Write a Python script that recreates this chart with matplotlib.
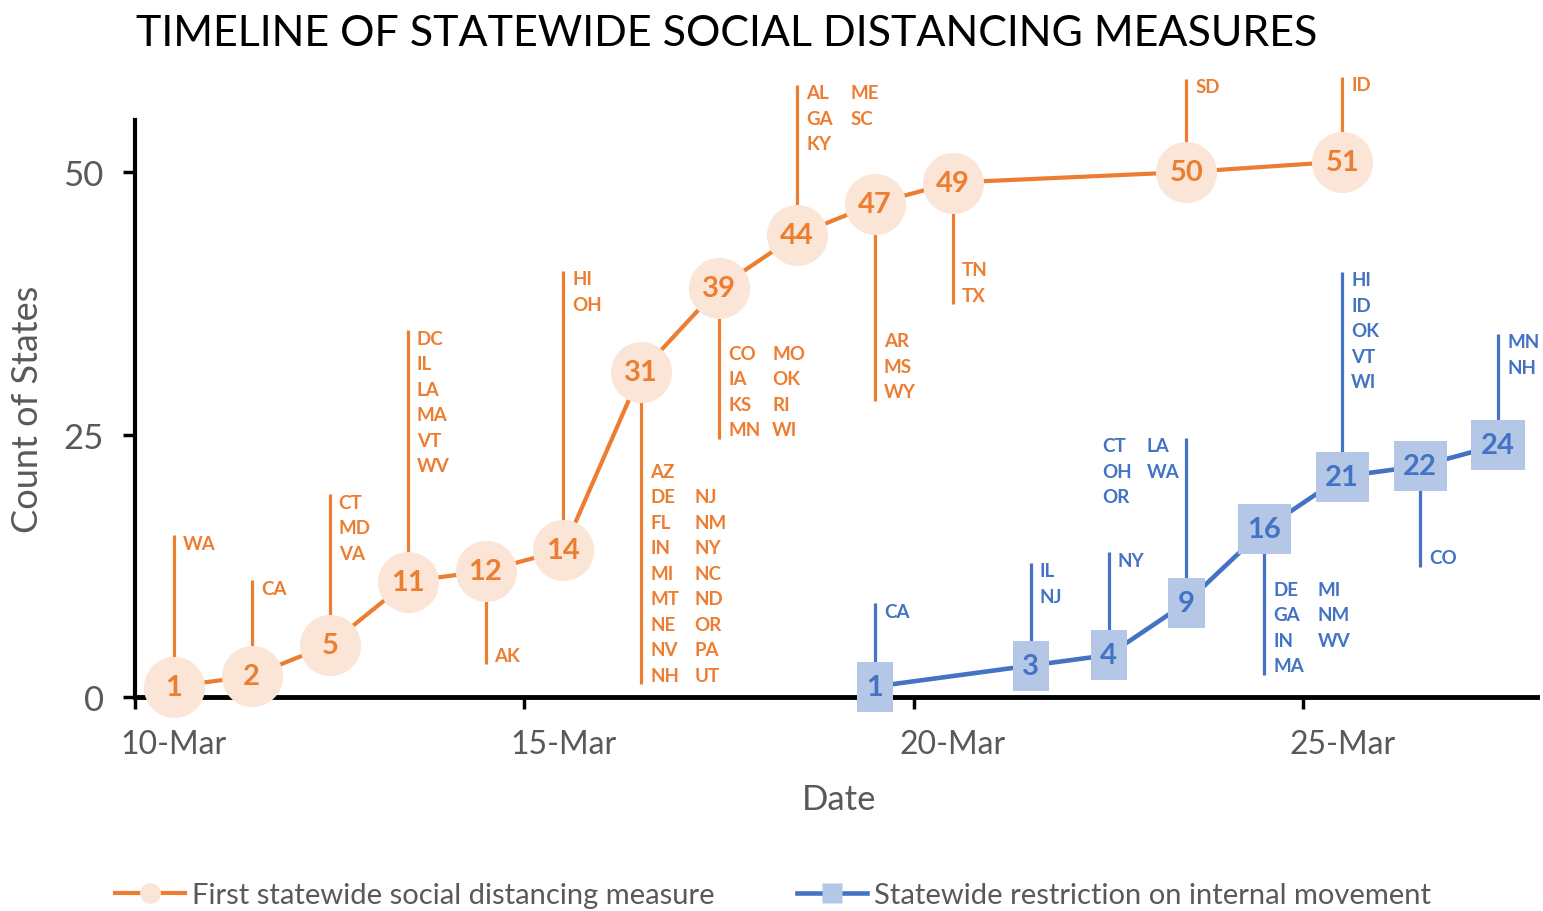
import matplotlib
matplotlib.use("Agg")
import matplotlib.pyplot as plt
from matplotlib.lines import Line2D

plt.rcParams['font.family'] = ['Lato', 'DejaVu Sans']

# données (jour de mars)
dias_naranja = [10, 11, 12, 13, 14, 15, 16, 17, 18, 19, 20, 23, 25]
conteo_naranja = [1, 2, 5, 11, 12, 14, 31, 39, 44, 47, 49, 50, 51]
estados_naranja = [
    [["WA"]],
    [["CA"]],
    [["CT", "MD", "VA"]],
    [["DC", "IL", "LA", "MA", "VT", "WV"]],
    [["AK"]],
    [["HI", "OH"]],
    [["AZ", "DE", "FL", "IN", "MI", "MT", "NE", "NV", "NH"],
     ["", "NJ", "NM", "NY", "NC", "ND", "OR", "PA", "UT"]],
    [["CO", "IA", "KS", "MN"], ["MO", "OK", "RI", "WI"]],
    [["AL", "GA", "KY"], ["ME", "SC", ""]],
    [["AR", "MS", "WY"]],
    [["TN", "TX"]],
    [["SD"]],
    [["ID"]],
]

dias_azul = [19, 21, 22, 23, 24, 25, 26, 27]
conteo_azul = [1, 3, 4, 9, 16, 21, 22, 24]
estados_azul = [
    [["CA"]],
    [["IL", "NJ"]],
    [["NY"]],
    [["CT", "OH", "OR"], ["LA", "WA"]],
    [["DE", "GA", "IN", "MA"], ["MI", "NM", "WV", ""]],
    [["HI", "ID", "OK", "VT", "WI"]],
    [["CO"]],
    [["MN", "NH"]],
]

etiquetas_x = ["10-Mar", "15-Mar", "20-Mar", "25-Mar"]
pos_x = [10, 15, 20, 25]

# fin de las líneas guía (en unidades del eje y)
fin_naranja = [15.4, 11.1, 19.3, 34.95, 3.1, 40.6, 1.2, 24.6, 58.3, 28.2, 37.4, 58.9, 59.1]
fin_azul = [8.95, 12.8, 13.8, 24.7, 2.1, 40.5, 12.4, 34.6]
izq_azul = [False, False, False, True, False, False, False, False]

NARANJA = "#ED7D31"
NARANJA_CLARO = "#FBE5D6"
AZUL = "#4472C4"
AZUL_CLARO = "#B4C7E7"
GRIS = "#595959"
PX = 0.72  # puntos por pixel a 100 dpi


def guias(ax, xs, ys, fines, grupos, color, izquierda=None):
    for i, (x, y, f, cols) in enumerate(zip(xs, ys, fines, grupos)):
        ax.plot([x, x], [y, f], color=color, lw=2.3, zorder=3,
                clip_on=False, solid_capstyle='butt')
        a_izq = izquierda[i] if izquierda else False
        n = max(len(c) for c in cols)
        for j, col in enumerate(cols):
            if a_izq:
                dx = (-84 + 44 * j) * PX
            else:
                dx = (9 + 44 * j) * PX
            for k, s in enumerate(col):
                if not s:
                    continue
                if f > y:
                    dy = (-8 - 25.5 * k) * PX
                else:
                    dy = (9 + 25.5 * (n - 1 - k)) * PX
                ax.annotate(s, xy=(x, f), xytext=(dx, dy),
                            textcoords='offset points', ha='left',
                            va='center', fontsize=13.5, fontweight='bold',
                            color=color, annotation_clip=False)


fig = plt.figure(figsize=(15.43, 9.12), dpi=100)
ax = fig.add_axes([0.0875, 0.2346, 0.9086, 0.6332])

# serie naranja
ax.plot(dias_naranja, conteo_naranja, color=NARANJA, lw=3, zorder=4,
        clip_on=False)
ax.plot(dias_naranja, conteo_naranja, ls='none', marker='o', ms=44,
        mfc=NARANJA_CLARO, mec='none', zorder=5, clip_on=False)
for x, y in zip(dias_naranja, conteo_naranja):
    ax.text(x, y, str(y), ha='center', va='center', fontsize=21,
            fontweight='bold', color=NARANJA, zorder=6)
guias(ax, dias_naranja, conteo_naranja, fin_naranja, estados_naranja, NARANJA)

# serie azul
ax.plot(dias_azul, conteo_azul, color=AZUL, lw=3.3, zorder=4, clip_on=False)
for x, y in zip(dias_azul, conteo_azul):
    t = ax.text(x, y, str(y), ha='center', va='center', fontsize=21,
                fontweight='bold', color=AZUL, zorder=6,
                bbox=dict(boxstyle='square,pad=0.33', fc=AZUL_CLARO,
                          ec='none'))
    t.get_bbox_patch().set_mutation_aspect(1.25)
guias(ax, dias_azul, conteo_azul, fin_azul, estados_azul, AZUL, izq_azul)

# ejes
ax.set_xlim(9.5, 27.5)
ax.set_ylim(0, 55)
for s in ['top', 'right']:
    ax.spines[s].set_visible(False)
ax.spines['left'].set_linewidth(3)
ax.spines['bottom'].set_linewidth(3.5)
ax.set_yticks([0, 25, 50])
ax.tick_params(axis='y', direction='out', length=8.5, width=2.5,
               labelsize=25, labelcolor=GRIS, pad=14)
ax.set_xticks([9.5, 14.5, 19.5, 24.5])
ax.set_xticklabels([])
ax.tick_params(axis='x', direction='out', length=8.5, width=2.5)
for p, t in zip(pos_x, etiquetas_x):
    ax.text(p, -4.5, t, ha='center', va='center', fontsize=23, color=GRIS)
ax.text(18.54, -9.7, "Date", ha='center', va='center', fontsize=25,
        color=GRIS)
ax.set_ylabel("Count of States", fontsize=26, color=GRIS, labelpad=14)

fig.text(0.471, 0.963, "TIMELINE OF STATEWIDE SOCIAL DISTANCING MEASURES",
         ha='center', va='center', fontsize=31, color='black')

# leyenda
h1 = Line2D([], [], color=NARANJA, lw=3, marker='o', ms=15,
            mfc=NARANJA_CLARO, mec='none')
h2 = Line2D([], [], color=AZUL, lw=3.3, marker='s', ms=15,
            mfc=AZUL_CLARO, mec='none')
fig.legend([h1, h2], ["First statewide social distancing measure",
                      "Statewide restriction on internal movement"],
           loc='center', bbox_to_anchor=(0.501, 1 - 896 / 912), ncol=2,
           frameon=False, fontsize=21, labelcolor=GRIS, handlelength=2.4,
           handletextpad=0.25, columnspacing=2.8)

fig.savefig("out.png", dpi=100)
